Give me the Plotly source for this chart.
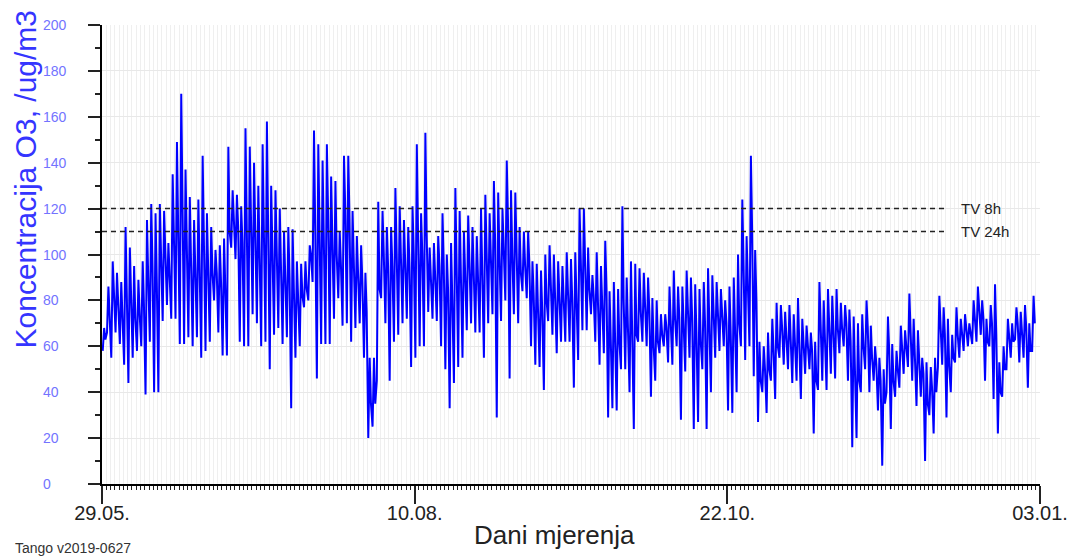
import datetime as dt
import plotly.graph_objects as go

# Daily maximum / typical / minimum O3 readings (ug/m3), from 29.05.
daily_hi = [68, 86, 97, 92, 88, 112, 103, 95, 89, 97,
            115, 122, 118, 122, 119, 105, 135, 149, 170, 137,
            125, 115, 124, 143, 118, 112, 102, 104, 107, 147,
            128, 126, 121, 155, 147, 140, 130, 148, 158, 130,
            128, 120, 110, 112, 111, 97, 96, 97, 104, 154,
            148, 141, 148, 134, 132, 110, 143, 143, 119, 108,
            104, 92, 55, 55, 123, 119, 112, 112, 129, 121,
            115, 112, 121, 148, 118, 153, 103, 105, 108, 118,
            100, 105, 129, 119, 110, 117, 112, 108, 120, 126,
            118, 132, 127, 120, 141, 128, 127, 112, 110, 110,
            97, 96, 93, 100, 104, 100, 97, 95, 101, 98,
            101, 120, 120, 103, 91, 101, 95, 106, 84, 88,
            85, 121, 90, 97, 96, 94, 92, 90, 81, 80,
            74, 74, 86, 93, 86, 86, 93, 90, 87, 85,
            88, 94, 91, 88, 85, 80, 86, 90, 100, 124,
            108, 143, 102, 62, 60, 66, 72, 79, 78, 75,
            78, 74, 81, 72, 69, 66, 62, 88, 80, 85,
            82, 85, 79, 78, 76, 73, 70, 74, 80, 69,
            60, 55, 50, 73, 61, 58, 69, 67, 83, 72,
            67, 55, 53, 51, 55, 82, 77, 72, 65, 77,
            72, 74, 70, 80, 86, 80, 72, 78, 87, 53,
            60, 72, 70, 77, 75, 78, 70, 82]
daily_mid = [63, 75, 80, 78, 74, 85, 80, 72, 74, 78,
             90, 95, 88, 100, 100, 92, 105, 110, 115, 105,
             100, 95, 100, 110, 95, 92, 92, 88, 85, 110,
             115, 112, 105, 120, 118, 110, 105, 118, 115, 100,
             105, 95, 88, 90, 85, 80, 82, 85, 100, 110,
             115, 110, 118, 105, 100, 95, 120, 115, 95, 90,
             88, 75, 35, 35, 85, 100, 95, 95, 100, 98,
             98, 95, 100, 110, 100, 110, 90, 92, 95, 95,
             85, 80, 100, 95, 90, 95, 92, 90, 95, 100,
             95, 105, 100, 100, 115, 100, 100, 92, 95, 95,
             82, 80, 75, 80, 88, 85, 82, 80, 82, 80,
             80, 92, 92, 85, 82, 82, 80, 85, 62, 65,
             62, 80, 72, 70, 65, 75, 75, 75, 60, 62,
             65, 68, 70, 72, 72, 65, 72, 72, 65, 62,
             70, 70, 72, 72, 72, 70, 65, 62, 70, 95,
             90, 110, 80, 45, 50, 50, 58, 60, 68, 65,
             65, 60, 65, 58, 58, 58, 45, 65, 62, 65,
             68, 68, 68, 70, 62, 48, 45, 60, 68, 55,
             52, 45, 35, 58, 45, 50, 58, 58, 68, 58,
             50, 48, 35, 42, 40, 68, 65, 52, 55, 65,
             65, 68, 66, 72, 75, 72, 62, 70, 65, 40,
             50, 62, 62, 70, 65, 68, 58, 70]
daily_lo = [58, 66, 55, 66, 61, 52, 44, 55, 58, 60,
            39, 62, 40, 40, 71, 78, 72, 72, 61, 61,
            64, 60, 64, 55, 58, 62, 80, 66, 56, 56,
            103, 98, 62, 60, 60, 74, 70, 60, 62, 50,
            65, 68, 61, 64, 33, 55, 60, 77, 80, 88,
            46, 61, 61, 61, 72, 81, 69, 70, 62, 68,
            70, 55, 20, 25, 45, 81, 70, 45, 62, 65,
            70, 72, 51, 55, 60, 60, 75, 72, 71, 60,
            50, 33, 44, 51, 55, 67, 70, 66, 66, 55,
            70, 74, 29, 71, 80, 46, 74, 70, 84, 81,
            60, 52, 51, 41, 71, 65, 57, 62, 62, 62,
            42, 54, 67, 67, 74, 62, 52, 57, 29, 33,
            32, 50, 50, 40, 24, 62, 62, 60, 38, 45,
            57, 60, 53, 52, 60, 28, 49, 55, 24, 27,
            50, 24, 40, 55, 58, 60, 32, 31, 40, 60,
            54, 60, 47, 27, 40, 31, 45, 37, 55, 52,
            50, 44, 45, 37, 48, 50, 22, 41, 45, 41,
            48, 46, 57, 60, 45, 16, 20, 40, 50, 40,
            45, 32, 8, 40, 24, 38, 42, 48, 51, 45,
            34, 38, 10, 30, 22, 51, 52, 29, 40, 53,
            55, 58, 60, 61, 62, 65, 45, 60, 37, 22,
            38, 50, 55, 63, 53, 55, 42, 58]

start_date = "2019-05-29"
end_date = "2020-01-03"
tick_dates = ["2019-05-29", "2019-08-10", "2019-10-22", "2020-01-03"]
tick_labels = ["29.05.", "10.08.", "22.10.", "03.01."]
y_ticks = [0, 20, 40, 60, 80, 100, 120, 140, 160, 180, 200]
limit_values = [120, 110]
limit_labels = ["TV 8h", "TV 24h"]
limit_line_end = "2019-12-12"
limit_label_pos = "2019-12-15"

FONT = "Liberation Sans, Arial"

t0 = dt.datetime(2019, 5, 29)
xs, ys = [], []
for d, (lo, hi, mid) in enumerate(zip(daily_lo, daily_hi, daily_mid)):
    xs.append(t0 + dt.timedelta(hours=d * 24 + 4))
    ys.append(lo)
    xs.append(t0 + dt.timedelta(hours=d * 24 + 12))
    ys.append(hi)
    xs.append(t0 + dt.timedelta(hours=d * 24 + 19))
    ys.append(mid)

fig = go.Figure()
fig.add_trace(go.Scatter(x=xs, y=ys, mode="lines",
                         line=dict(color="#0000ff", width=2.0),
                         hoverinfo="skip", showlegend=False))

for v, lab in zip(limit_values, limit_labels):
    fig.add_shape(type="line", xref="x", yref="y",
                  x0=start_date, x1=limit_line_end, y0=v, y1=v,
                  line=dict(color="#222222", width=1.5, dash="5px,4px"))
    fig.add_annotation(x=limit_label_pos, y=v, xref="x", yref="y",
                       text=lab, showarrow=False, xanchor="left",
                       font=dict(size=15, color="#222222", family=FONT))

# y tick labels (left aligned, as in the reference)
for v in y_ticks:
    fig.add_annotation(x=0, y=v, xref="paper", yref="y", xshift=-61,
                       text=str(v), showarrow=False, xanchor="left",
                       font=dict(size=14, color="#7373ff", family=FONT))

# y axis title
fig.add_annotation(x=0, y=(484 - 179) / 459, xref="paper", yref="paper",
                   xshift=-95, text="Koncentracija O3, /ug/m3",
                   textangle=-90, showarrow=False,
                   font=dict(size=30, color="#3535ff", family=FONT))
# x axis title
fig.add_annotation(x=(554 - 102) / 938, y=0, xref="paper", yref="paper",
                   yshift=-68, text="Dani mjerenja", showarrow=False,
                   font=dict(size=26, color="#222222", family=FONT))
# footer
fig.add_annotation(x=0, y=0, xref="paper", yref="paper",
                   xshift=-89, yshift=-74, text="Tango v2019-0627",
                   showarrow=False, xanchor="left",
                   font=dict(size=14, color="#333333", family=FONT))

# the page body adds an 8 px margin, so the figure is 8 px smaller and shifted
fig.update_layout(
    width=1068, height=552,
    margin=dict(l=94, r=36, t=17, b=76, autoexpand=False),
    paper_bgcolor="white", plot_bgcolor="white",
    font=dict(family=FONT),
    xaxis=dict(
        type="date", range=[start_date, end_date], automargin=False,
        tickvals=tick_dates, ticktext=tick_labels,
        ticks="outside", ticklen=18, tickwidth=1.5, tickcolor="#222",
        tickfont=dict(size=20, color="#222222"), ticklabelstandoff=-8,
        showline=True, linecolor="black", linewidth=2,
        showgrid=False, zeroline=False,
        minor=dict(dtick=86400000, tick0=start_date, ticks="outside",
                   ticklen=4, tickwidth=1, tickcolor="#222",
                   showgrid=True, gridcolor="#efefef", gridwidth=1),
    ),
    yaxis=dict(
        range=[0, 200], tickvals=y_ticks, showticklabels=False,
        automargin=False,
        ticks="outside", ticklen=12, tickwidth=1.5, tickcolor="#222",
        showline=True, linecolor="black", linewidth=2,
        showgrid=True, gridcolor="#e8e8e8", gridwidth=1,
        zeroline=False,
        minor=dict(dtick=10, ticks="outside", ticklen=5, tickwidth=1.5,
                   tickcolor="#222", showgrid=False),
    ),
)

fig.write_html("out.html")
